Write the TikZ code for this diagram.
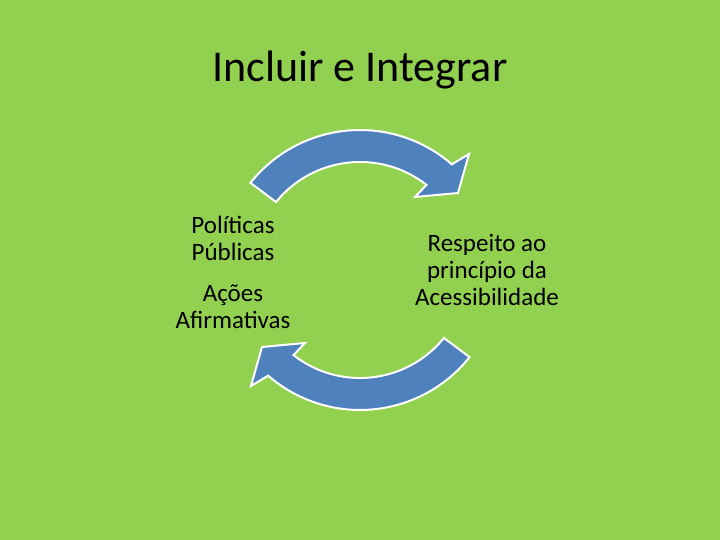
\documentclass[tikz,border=0pt]{standalone}
\usepackage{fontspec}
\setmainfont{Carlito}
\usetikzlibrary{positioning}

\definecolor{slidegreen}{RGB}{146,208,80}
\definecolor{arrowblue}{RGB}{79,129,189}

\tikzset{
  cyclearrow/.style={fill=arrowblue, draw=white, line width=2pt, line join=miter},
  bodytext/.style={align=center, font=\fontsize{25}{27}\selectfont, text=black}
}

% one curved arrow of the cycle, centred on the origin
\newcommand{\cyclearc}[1][]{%
  \draw[cyclearrow,#1] (141.5:140pt) arc[start angle=141.5, end angle=49, radius=140pt]
    -- (109pt,116pt) -- (98pt,77pt) -- (55pt,73pt)
    -- (52:108pt) arc[start angle=52, end angle=141, radius=108pt] -- cycle;}

\begin{document}
\begin{tikzpicture}[x=1pt, y=1pt]
  \fill[slidegreen] (0,0) rectangle (720,540);
  \useasboundingbox (0,0) rectangle (720,540);

  \node (title) at (360,470) {\fontsize{44}{53}\selectfont Incluir e Integrar};

  \begin{scope}[shift={(360,270)}]
    \cyclearc
    \cyclearc[rotate=180]
  \end{scope}

  \node[bodytext] (acoes) at (233,268) {Políticas\\Públicas\\[14pt]Ações\\Afirmativas};
  \node[bodytext] (respeito) at (487,270) {Respeito ao\\princípio da\\Acessibilidade};
\end{tikzpicture}
\end{document}
